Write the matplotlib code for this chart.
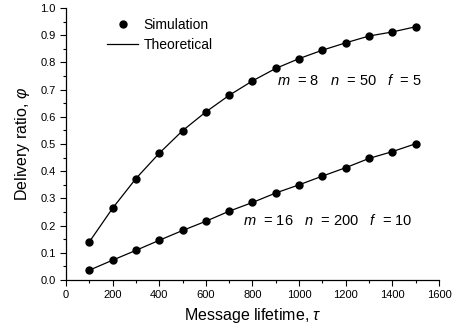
import matplotlib
matplotlib.use('Agg')
import matplotlib.pyplot as plt
from matplotlib.ticker import MultipleLocator

plt.rcParams['font.family'] = ['Liberation Sans', 'DejaVu Sans']
plt.rcParams['mathtext.fontset'] = 'custom'
plt.rcParams['mathtext.rm'] = 'Liberation Sans'
plt.rcParams['mathtext.it'] = 'Liberation Sans:italic'

# message lifetime
tau = [100, 200, 300, 400, 500, 600, 700, 800, 900, 1000, 1100, 1200, 1300, 1400, 1500]

# m=8 n=50 f=5
sim_a = [0.140, 0.264, 0.373, 0.466, 0.549, 0.618, 0.679, 0.732, 0.778, 0.814,
         0.845, 0.872, 0.897, 0.912, 0.931]
theo_a = [0.140, 0.264, 0.373, 0.466, 0.549, 0.618, 0.679, 0.732, 0.778, 0.814,
          0.845, 0.872, 0.897, 0.912, 0.931]

# m=16 n=200 f=10
sim_b = [0.036, 0.073, 0.109, 0.146, 0.182, 0.216, 0.253, 0.285, 0.320, 0.350,
         0.382, 0.413, 0.447, 0.472, 0.501]
theo_b = [0.036, 0.073, 0.109, 0.146, 0.182, 0.216, 0.253, 0.285, 0.320, 0.350,
          0.382, 0.413, 0.447, 0.472, 0.501]

fig = plt.figure(figsize=(4.6, 3.31), dpi=100)
ax = fig.add_axes([66 / 460, 51 / 331, 373 / 460, 272 / 331])

ax.plot(tau, theo_a, color='black', lw=0.9, label='Theoretical')
ax.plot(tau, theo_b, color='black', lw=0.9)
ax.plot(tau, sim_a, 'o', color='black', ms=5, label='Simulation')
ax.plot(tau, sim_b, 'o', color='black', ms=5)

ax.set_xlim(0, 1600)
ax.set_ylim(0, 1.0)
ax.xaxis.set_major_locator(MultipleLocator(200))
ax.xaxis.set_minor_locator(MultipleLocator(100))
ax.yaxis.set_major_locator(MultipleLocator(0.1))
ax.yaxis.set_minor_locator(MultipleLocator(0.05))
ax.yaxis.set_major_formatter(plt.FormatStrFormatter('%.1f'))
ax.tick_params(which='major', direction='out', length=4, width=0.8, labelsize=8)
ax.tick_params(which='minor', direction='out', length=2.5, width=0.8)
for s in ['top', 'right']:
    ax.spines[s].set_visible(False)
ax.spines['left'].set_linewidth(0.9)
ax.spines['bottom'].set_linewidth(0.9)

ax.set_xlabel(r'Message lifetime, $\tau$', fontsize=11.5, labelpad=4)
ax.set_ylabel(r'Delivery ratio, $\varphi$', fontsize=11.5, labelpad=6)

ax.text(905, 0.735, r'$m$  = 8   $n$  = 50   $f$  = 5', fontsize=10.5,
        ha='left', va='center')
ax.text(760, 0.219, r'$m$  = 16   $n$  = 200   $f$  = 10', fontsize=10.5,
        ha='left', va='center')

h, l = ax.get_legend_handles_labels()
ax.legend([h[1], h[0]], [l[1], l[0]], loc='upper left', bbox_to_anchor=(0.085, 1.0),
          frameon=False, fontsize=10, handlelength=2.2, handletextpad=0.4,
          labelspacing=0.45, borderpad=0.2)

fig.savefig('out.png', dpi=100)
